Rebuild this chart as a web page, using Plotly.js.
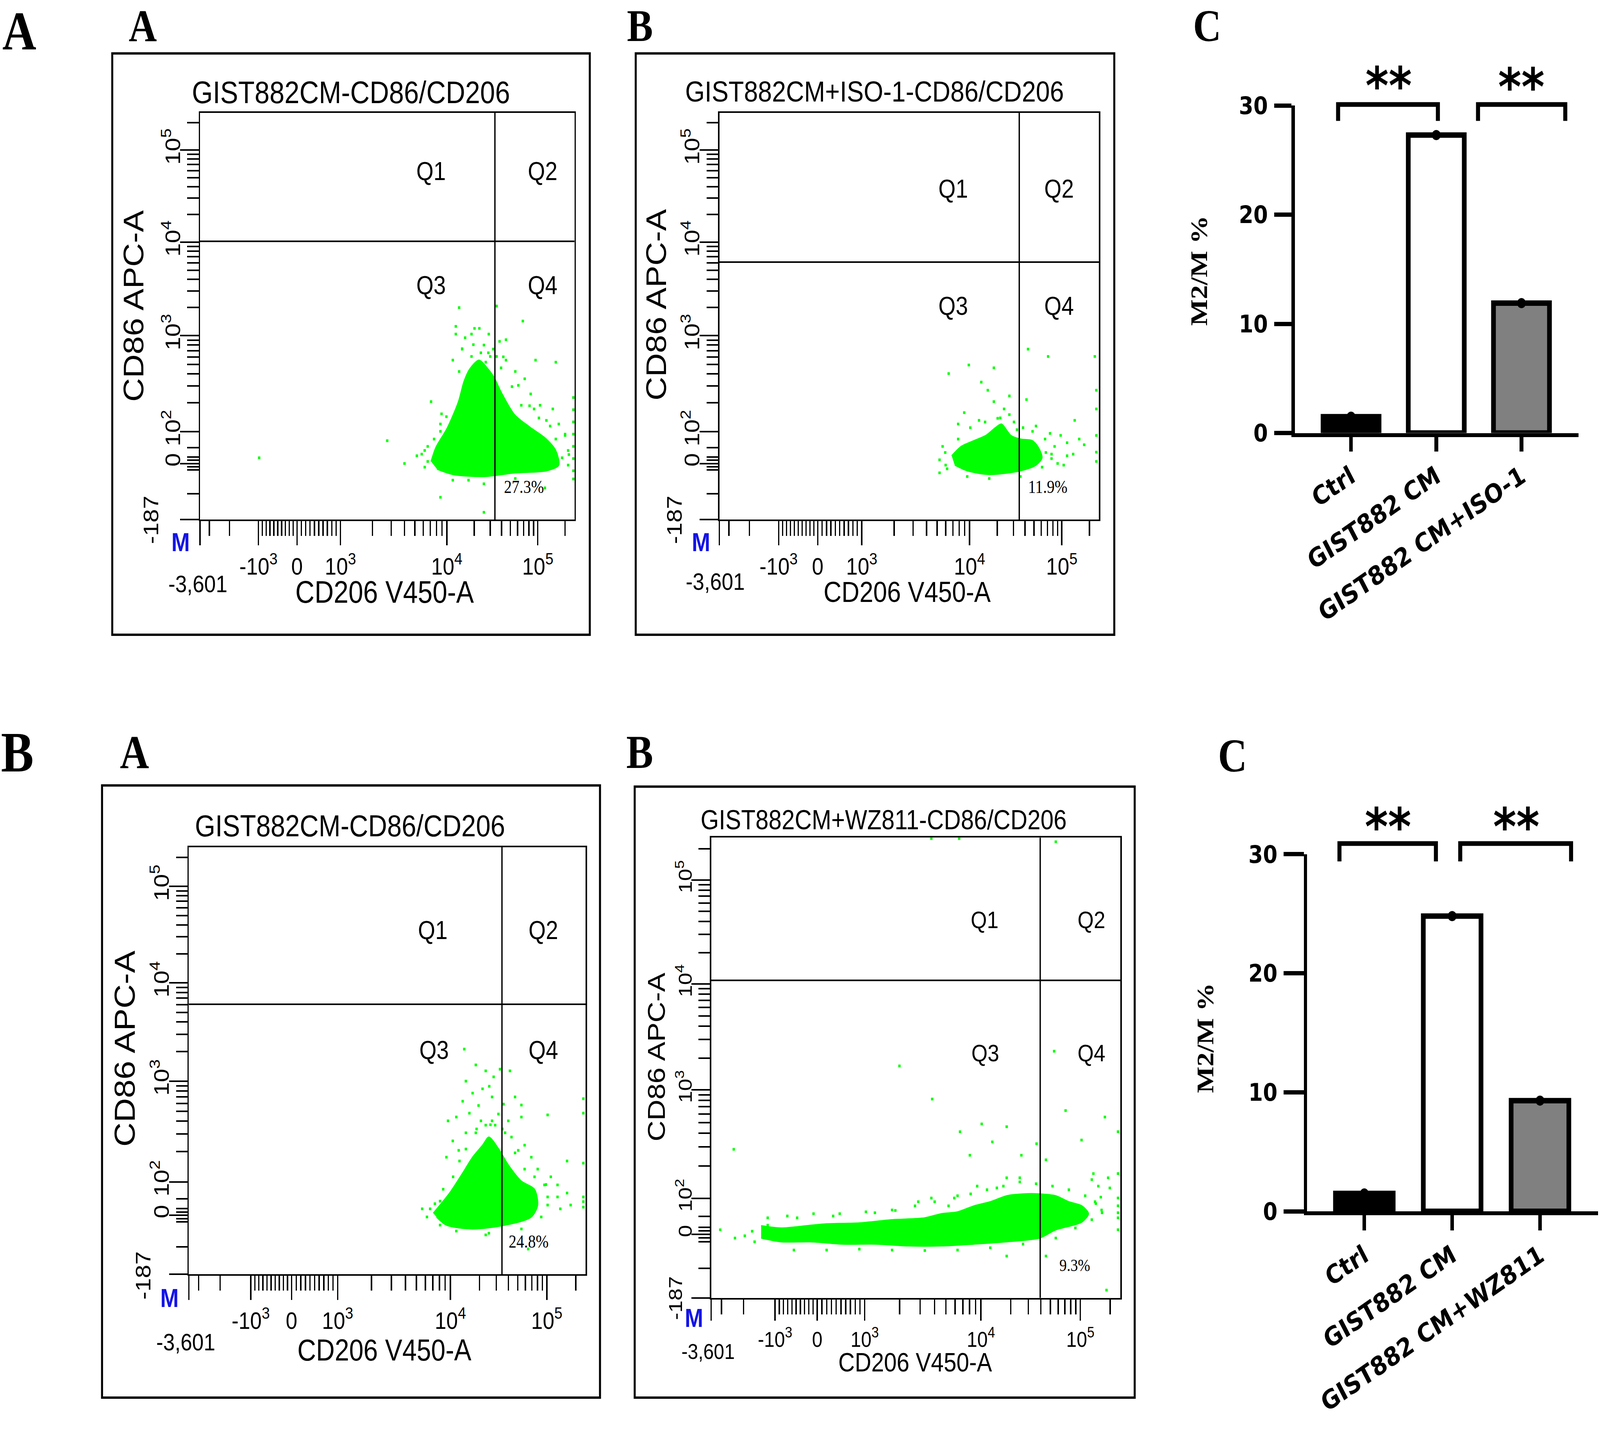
<!DOCTYPE html>
<html><head><meta charset="utf-8">
<script src="https://cdn.plot.ly/plotly-3.0.1.min.js"></script>
<style>html,body{margin:0;padding:0;background:#fff;overflow:hidden;} #wrap{width:4762px;height:3666px;transform-origin:0 0;} #chart{width:4762px;height:3666px;}</style>
</head><body><div id="wrap"><div id="chart"></div></div>
<script>
// ---------------- DATA ----------------
const flowXTickText = ['', '-10<sup>3</sup>', '0', '10<sup>3</sup>', '10<sup>4</sup>', '10<sup>5</sup>'];
const flowYTickText = ['', '0', '10<sup>2</sup>', '10<sup>3</sup>', '10<sup>4</sup>', '10<sup>5</sup>'];
const flowXMinLabel = '-3,601';
const flowYMinLabel = '-187';
const flowXTitle = 'CD206 V450-A';
const flowYTitle = 'CD86 APC-A';
const flowTitles = ['GIST882CM-CD86/CD206', 'GIST882CM+ISO-1-CD86/CD206', 'GIST882CM-CD86/CD206', 'GIST882CM+WZ811-CD86/CD206'];
const quadrantNames = ['Q1', 'Q2', 'Q3', 'Q4'];
const q4Percent = ['27.3%', '11.9%', '24.8%', '9.3%'];
const gateX = [787.5, 790, 789, 804];
const gateY = [684, 633, 632, 690];

// dense event cloud outlines (display channel x, channel y)
const p1Core = [[617,143],[630,178],[660,225],[690,290],[705,340],[720,370],[745,392],[765,375],[785,350],[805,312],[840,258],[880,228],[925,198],[950,170],[958,134],[925,120],[842,115],[758,106],[675,111],[633,124]];
const p2Core = [[612,157],[637,180],[670,194],[702,207],[727,226],[743,235],[768,207],[793,198],[825,194],[842,175],[850,152],[834,134],[793,120],[711,111],[653,120],[620,134]];
const p3Core = [[616,143],[657,190],[690,237],[715,274],[740,302],[756,321],[781,293],[805,256],[838,218],[871,199],[879,162],[863,134],[797,115],[715,106],[649,115],[624,134]];
const p4Core = [[122,157],[170,152],[234,157],[282,161],[362,163],[442,170],[522,174],[562,183],[602,187],[642,200],[682,209],[722,222],[762,226],[802,226],[842,222],[874,209],[906,200],[922,183],[906,165],[842,148],[802,130],[722,122],[642,117],[562,113],[482,113],[402,117],[322,117],[242,122],[170,122],[122,130]];

// scattered single events
const p1Dots = [[158,152],[500,194],[546,138],[579,157],[600,170],[608,143],[617,290],[642,235],[645,260],[642,55],[683,475],[692,521],[700,420],[725,456],[730,430],[746,470],[770,410],[792,525],[810,400],[817,442],[850,330],[862,488],[880,280],[896,392],[905,250],[935,230],[950,387],[975,210],[985,160],[758,18],[921,78],[997,300],[997,270],[997,240],[997,210],[997,180],[997,150],[997,120],[997,100],
  [683,456],[708,447],[733,470],[758,429],[771,456],[700,419],[725,401],[750,410],[775,401],[675,392],[692,364],[763,387],[783,419],
  [800,438],[817,392],[842,364],[867,346],[833,327],[883,309],[908,281],[942,272],[925,244],[958,235],[975,207],[950,198],[983,170],[967,152],[933,143],[983,134],[892,272],[858,281],[804,373],[792,401],
  [592,161],[608,180],[625,198],[642,217],[658,253],[600,129],[675,97],[758,88],[842,101],[717,97]];
const p2Dots = [[580,115],[580,147],[604,359],[657,380],[723,373],[690,338],[707,318],[723,290],[764,304],[809,295],[813,419],[866,401],[989,401],[993,318],[993,272],[993,207],[993,166],[993,143],[936,244],[961,184],[899,207],[883,180],[916,157],[834,230],[871,212],[645,263],[629,235],[764,258],[784,221],[891,138],[600,125],[595,165],[740,250],[700,240],[860,165],[875,150],
  [588,180],[596,134],[629,198],[661,226],[684,244],[733,249],[750,272],[776,240],[800,226],[825,217],[858,198],[875,161],[850,129],[793,106],[711,101],[653,106],[916,189],[932,161],[948,198],[907,134]];
const p3Dots = [[694,527],[723,490],[748,476],[768,462],[784,480],[809,476],[698,452],[715,424],[740,434],[764,415],[690,405],[793,398],[822,415],[838,396],[653,359],[674,368],[707,377],[736,359],[772,349],[805,359],[838,368],[904,373],[665,312],[698,331],[813,321],[846,302],[649,274],[863,274],[879,246],[953,265],[912,228],[929,209],[953,190],[936,153],[904,181],[994,411],[994,377],[994,260],[994,181],[994,170],[994,157],[588,153],[600,134],[748,92],[855,59],[730,395],[757,440],[780,375],[760,350],[725,340],[790,340],[680,290],[830,290],[900,210],[620,165],
  [608,153],[633,171],[641,199],[666,228],[682,265],[698,293],[723,331],[748,349],[764,359],[797,331],[822,284],[846,246],[871,228],[896,209],[904,162],[888,134],[838,106],[756,96],[674,101],[633,115],[929,181],[962,162]];
const p4Dots = [[22,148],[58,130],[82,135],[106,122],[55,323],[460,504],[540,432],[608,361],[661,378],[722,372],[687,339],[632,310],[758,310],[795,335],[838,536],[866,407],[962,393],[905,343],[818,300],[994,361],[994,270],[994,217],[994,200],[994,185],[994,174],[994,148],[934,270],[974,239],[952,219],[754,261],[722,261],[698,239],[650,243],[602,222],[538,217],[506,209],[722,91],[818,91],[966,17],[538,998],[606,998],[842,991],[298,178],[210,174],[138,158],[100,145],[400,185],[450,190],[580,200],[940,205],[955,185],[930,170],
  [138,174],[186,178],[250,183],[314,183],[378,187],[442,191],[498,200],[546,209],[594,217],[634,226],[674,235],[714,243],[754,252],[794,248],[834,243],[874,235],[914,222],[938,209],[954,191],[202,104],[282,104],[362,106],[442,104],[522,103],[602,104],[682,109],[762,117],[842,130],[890,152],[946,243],[970,261],[930,257]];

// Bar charts
const barCatsTop = ['Ctrl', 'GIST882 CM', 'GIST882 CM+ISO-1'];
const barValsTop = [1.5, 27.3, 11.9];
const barCatsBottom = ['Ctrl', 'GIST882 CM', 'GIST882 CM+WZ811'];
const barValsBottom = [1.5, 24.8, 9.3];
const barFills = ['#000000', '#ffffff', '#808080'];
const barYTicks = [0, 10, 20, 30];
const barYTitle = 'M2/M %';
const sigLabel = '**';
const panelLetters = ['A', 'A', 'B', 'C', 'B', 'A', 'B', 'C'];

// ---------------- FIT THE 4762x3666 DESIGN INTO THE ACTUAL VIEWPORT ----------------
(function(){
  const sx = (window.innerWidth || 4762) / 4762, sy = (window.innerHeight || 3666) / 3666;
  document.getElementById('wrap').style.transform = 'scale(' + sx + ',' + sy + ')';
})();

// ---------------- LAYOUT HELPERS ----------------
const DW = 1568, DH = 1207;
function px(x){ return x / DW; }
function py(y){ return 1 - y / DH; }
const GREEN = '#00ff00';

function logMinors(c0, per){ const r=[]; for(let m=2;m<=9;m++) r.push(c0 + per*Math.log10(m)); return r; }
const flowXMajor = [0, 156, 259, 375, 659, 902];
const flowYMajor = [0, 138, 216, 452, 682, 908];
const xMinor = [25, 79];
for (let v=-900; v<=900; v+=100){ if(v===0) continue; xMinor.push(v<0 ? 259 + 0.103*v : 259 + 0.116*v); }
xMinor.push(...logMinors(375,284), ...logMinors(659,243), 975);
const yMinor = [64, 122.4, 130.2, 145.8, 153.6, 177, ...logMinors(216,236), ...logMinors(452,230), ...logMinors(682,226), 976];

const flowGeom = [
  {box:[110,45,578,535], dom:[196,95,563,438], title:[344,78], tsz:80, xt:[377,499], xtsz:79, yt:[131,258], ytsz:84, lx:[194,492], ly:[148,438], m:[177,457], tick:62, xlen:62, qsz:66, psz:46,
   q:[[617,857],[915,857],[617,576],[915,576]], p:[865,80]},
  {box:[623,45,1092,535], dom:[705,95,1077,438], title:[857,77], tsz:75, xt:[889,499], xtsz:74, yt:[643,257], ytsz:84, lx:[701,490], ly:[661,438], m:[687,457], tick:62, xlen:62, qsz:66, psz:46,
   q:[[616,813],[895,813],[616,525],[895,525]], p:[865,80]},
  {box:[100,662,588,1178], dom:[185,714,574,1074], title:[343,696], tsz:78, xt:[377,1138], xtsz:77, yt:[122,884], ytsz:86, lx:[182,1131], ly:[140,1075], m:[166,1094], tick:62, xlen:62, qsz:66, psz:46,
   q:[[615,806],[893,806],[618,525],[893,525]], p:[856,76]},
  {box:[622,663,1112,1178], dom:[697,706,1098,1094], title:[866,691], tsz:70, xt:[897,1148], xtsz:68, yt:[643,891], ytsz:74, lx:[694,1139], ly:[662,1094], m:[680,1111], tick:56, xlen:54, qsz:62, psz:44,
   q:[[668,822],[929,822],[670,532],[929,532]], p:[889,71]}
];
const cores = [p1Core, p2Core, p3Core, p4Core];
const dots = [p1Dots, p2Dots, p3Dots, p4Dots];

const traces = [], shapes = [], annotations = [];
const layout = {
  width: 4762, height: 3666, margin:{l:0,r:0,t:0,b:0}, paper_bgcolor:'#fff', plot_bgcolor:'rgba(0,0,0,0)',
  showlegend:false, font:{family:'Liberation Sans', color:'#000'}
};

flowGeom.forEach((g, k) => {
  const i = k + 1;
  const xa = i===1 ? 'x' : 'x'+i, ya = i===1 ? 'y' : 'y'+i;
  const xk = i===1 ? 'xaxis' : 'xaxis'+i, yk = i===1 ? 'yaxis' : 'yaxis'+i;
  layout[xk] = {domain:[px(g.dom[0]), px(g.dom[2])], range:[0,1000], anchor:ya, showline:true, mirror:true, linecolor:'#000', linewidth:4,
    showgrid:false, zeroline:false, ticks:'outside', tickmode:'array', tickvals:flowXMajor, ticktext:flowXTickText, ticklen:g.xlen, tickwidth:4, tickcolor:'#000',
    tickfont:{family:'Liberation Sans', size:g.tick, color:'#000'}, ticklabelstandoff:0,
    minor:{tickmode:'array', tickvals:xMinor, ticks:'outside', ticklen:38, tickwidth:4, tickcolor:'#000', showgrid:false}, fixedrange:true};
  layout[yk] = {domain:[py(g.dom[3]), py(g.dom[1])], range:[0,1000], anchor:xa, showline:true, mirror:true, linecolor:'#000', linewidth:4,
    showgrid:false, zeroline:false, ticks:'outside', tickmode:'array', tickvals:flowYMajor, ticktext:flowYTickText, ticklen:55, tickwidth:4, tickcolor:'#000',
    tickangle:-90, tickfont:{family:'Liberation Sans', size:g.tick, color:'#000'}, ticklabelstandoff:-24,
    minor:{tickmode:'array', tickvals:yMinor, ticks:'outside', ticklen:34, tickwidth:4, tickcolor:'#000', showgrid:false}, fixedrange:true};

  traces.push({type:'scatter', mode:'lines', x:cores[k].map(p=>p[0]), y:cores[k].map(p=>p[1]), xaxis:xa, yaxis:ya,
    fill:'toself', fillcolor:GREEN, line:{color:GREEN, width:3, shape:'spline', smoothing:0.8}, hoverinfo:'skip'});
  traces.push({type:'scatter', mode:'markers', x:dots[k].map(p=>p[0]), y:dots[k].map(p=>p[1]), xaxis:xa, yaxis:ya,
    marker:{symbol:'square', size:7, color:GREEN}, hoverinfo:'skip'});

  shapes.push({type:'line', xref:xa, yref:ya, x0:gateX[k], x1:gateX[k], y0:0, y1:1000, line:{color:'#000', width:4}, layer:'above'});
  shapes.push({type:'line', xref:xa, yref:ya, x0:0, x1:1000, y0:gateY[k], y1:gateY[k], line:{color:'#000', width:4}, layer:'above'});
  shapes.push({type:'rect', xref:'paper', yref:'paper', x0:px(g.box[0]), x1:px(g.box[2]), y0:py(g.box[3]), y1:py(g.box[1]), line:{color:'#000', width:6}, fillcolor:'rgba(0,0,0,0)'});

  const A = (t, x, y, size, extra) => annotations.push(Object.assign({text:t, x:px(x), y:py(y), xref:'paper', yref:'paper', showarrow:false,
    xanchor:'center', yanchor:'middle', font:{family:'Liberation Sans', size:size, color:'#000'}}, extra||{}));
  A(flowTitles[k], g.title[0], g.title[1], g.tsz);
  A(flowXTitle, g.xt[0], g.xt[1], g.xtsz);
  A(flowYTitle, g.yt[0], g.yt[1], g.ytsz, {textangle:-90});
  A(flowXMinLabel, g.lx[0], g.lx[1], g.tick);
  A(flowYMinLabel, g.ly[0], g.ly[1], g.tick, {textangle:-90});
  A('<b>M</b>', g.m[0], g.m[1], 66, {font:{family:'Liberation Sans', size:66, color:'#1414e6'}});
  quadrantNames.forEach((q, j) => annotations.push({text:q, x:g.q[j][0], y:g.q[j][1], xref:xa, yref:ya, showarrow:false,
    xanchor:'center', yanchor:'middle', font:{family:'Liberation Sans', size:g.qsz, color:'#000'}}));
  annotations.push({text:q4Percent[k], x:g.p[0], y:g.p[1], xref:xa, yref:ya, showarrow:false, xanchor:'center', yanchor:'middle',
    font:{family:'Liberation Serif', size:g.psz, color:'#000'}});
});

// ---------------- BAR CHARTS ----------------
const barGeom = [
  {i:5, dom:[1269,89,1547,365], range:[-0.659,2.67], cats:barCatsTop, vals:barValsTop, ylen:52, xlen:37,
   br:[[-0.152,1.019],[1.49,2.514]], brTop:30.1, brEnd:28.6, stars:[[0.44,31.8],[2.0,31.7]], ytitle:[1175,228]},
  {i:6, dom:[1281,720,1566,1021], range:[-0.651,2.66], cats:barCatsBottom, vals:barValsBottom, ylen:60, xlen:39,
   br:[[-0.283,0.815],[1.092,2.354]], brTop:30.9, brEnd:29.4, stars:[[0.27,32.3],[1.73,32.3]], ytitle:[1181,875]}
];
barGeom.forEach(b => {
  const xa='x'+b.i, ya='y'+b.i;
  layout['xaxis'+b.i] = {domain:[px(b.dom[0]), px(b.dom[2])], anchor:ya, type:'category', categoryorder:'array', categoryarray:b.cats, range:b.range,
    showline:true, linecolor:'#000', linewidth:10, showgrid:false, zeroline:false, ticks:'outside', ticklen:b.xlen, tickwidth:11, tickcolor:'#000',
    tickangle:-31, tickfont:{family:'DejaVu Sans', size:66, color:'#000', weight:'bold'}, fixedrange:true};
  layout['yaxis'+b.i] = {domain:[py(b.dom[3]), py(b.dom[1])], anchor:xa, range:[0,30], tickmode:'array', tickvals:barYTicks,
    showline:true, linecolor:'#000', linewidth:10, showgrid:false, zeroline:false, ticks:'outside', ticklen:b.ylen, tickwidth:11, tickcolor:'#000',
    tickfont:{family:'DejaVu Sans', size:62, color:'#000', weight:'bold'}, ticklabelstandoff:6, fixedrange:true};
  traces.push({type:'bar', x:b.cats, y:b.vals, xaxis:xa, yaxis:ya, width:0.657,
    marker:{color:barFills, line:{color:'#000', width:14}}, hoverinfo:'skip'});
  traces.push({type:'scatter', mode:'markers', x:b.cats, y:b.vals, xaxis:xa, yaxis:ya, cliponaxis:false,
    marker:{color:'#000', size:26, symbol:'circle'}, hoverinfo:'skip'});
  const cx = c => px(b.dom[0]) + (c - b.range[0])/(b.range[1]-b.range[0]) * (px(b.dom[2]) - px(b.dom[0]));
  const cy = v => py(b.dom[3]) + v/30 * (py(b.dom[1]) - py(b.dom[3]));
  b.br.forEach(r => {
    shapes.push({type:'path', xref:'paper', yref:'paper',
      path:`M ${cx(r[0])},${cy(b.brEnd)} L ${cx(r[0])},${cy(b.brTop)} L ${cx(r[1])},${cy(b.brTop)} L ${cx(r[1])},${cy(b.brEnd)}`,
      line:{color:'#000', width:12}});
  });
  b.stars.forEach(s => annotations.push({text:sigLabel, x:cx(s[0]), y:cy(s[1]), xref:'paper', yref:'paper', showarrow:false, xanchor:'center', yanchor:'middle',
    font:{family:'DejaVu Sans', size:132, color:'#000', weight:'bold'}}));
  annotations.push({text:'<b>'+barYTitle+'</b>', x:px(b.ytitle[0]), y:py(b.ytitle[1]), xref:'paper', yref:'paper', showarrow:false,
    xanchor:'center', yanchor:'middle', textangle:-90, font:{family:'Liberation Serif', size:72, color:'#000'}});
});

// panel letters: [x, y, size, topAnchored]
const letterPos = [[19,0,140,1],[140,0,116,1],[627,0,116,1],[1183,0,116,1],[17,634,146,0],[132,634,120,0],[627,634,120,0],[1208,637,120,0]];
panelLetters.forEach((t, j) => annotations.push({text:'<b>'+t+'</b>', x:px(letterPos[j][0]), y:py(letterPos[j][1]), xref:'paper', yref:'paper',
  showarrow:false, xanchor:'center', yanchor:letterPos[j][3] ? 'top' : 'middle', font:{family:'Liberation Serif', size:letterPos[j][2], color:'#000'}}));

layout.shapes = shapes;
layout.annotations = annotations;
Plotly.newPlot('chart', traces, layout, {staticPlot:true, displayModeBar:false});
</script></body></html>
